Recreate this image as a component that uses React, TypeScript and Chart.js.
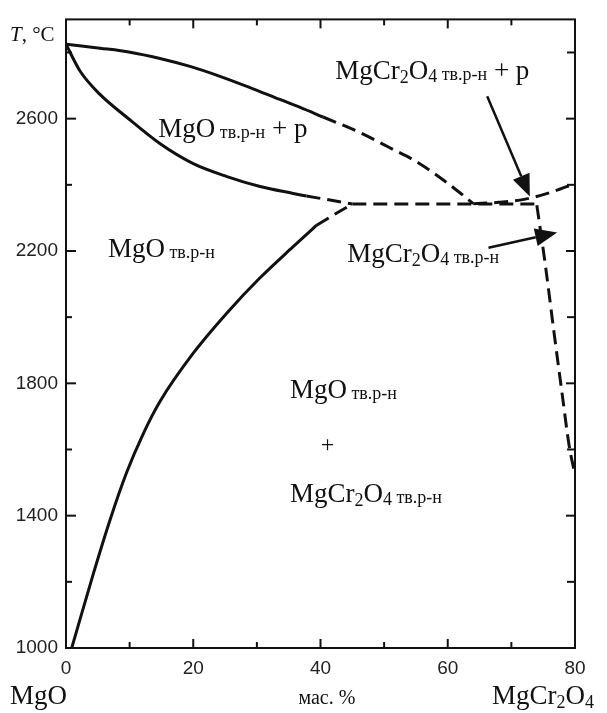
import React, { useEffect, useRef } from 'react';
import { Chart, registerables } from 'chart.js';

Chart.register(...registerables);

// ---- Data (wt.% MgCr2O4, temperature °C) ----
const liquidusSolidX = [0, 5.34, 10.06, 14.77, 19.49, 24.2, 28.9, 33.6, 36.8, 40.4];
const liquidusSolidT = [2825, 2813, 2801, 2782, 2758, 2728, 2694, 2658, 2634, 2605];
const liquidusDashX = [40.4, 46.2, 50.9, 55.6, 61.45, 64.0];
const liquidusDashT = [2605, 2558, 2512, 2464, 2383, 2343];
const liquidusRightX = [64, 68, 72, 76, 80];
const liquidusRightT = [2343, 2347, 2356, 2376, 2404];

const solidusSolidX = [0, 2.2, 5.3, 9.5, 14.8, 20, 25.3, 30.5, 35.7, 37.8];
const solidusSolidT = [2825, 2744, 2674, 2605, 2524, 2464, 2425, 2395, 2374, 2366];
const solidusDashX = [37.8, 41.5, 45];
const solidusDashT = [2366, 2354, 2342];

const solvusMgOSolidX = [0.9, 4.29, 6.92, 9.54, 12.1, 14.77, 20, 25.26, 30.5, 35.7, 39.4];
const solvusMgOSolidT = [1000, 1224, 1387, 1531, 1646, 1745, 1891, 2012, 2119, 2213, 2278];
const solvusMgODashX = [39.4, 42.5, 45];
const solvusMgODashT = [2278, 2314, 2342];

const eutecticX = [45, 74];
const eutecticT = [2342, 2342];

const solvusSpinelX = [74.0, 74.3, 75.4, 76.7, 78.0, 79.1, 80];
const solvusSpinelT = [2338, 2299, 2149, 1954, 1765, 1609, 1525];

// ---- Axes ----
const xTickLabels = [0, 20, 40, 60, 80];
const xMinorTicks = [10, 30, 50, 70];
const yTickLabels = [1000, 1400, 1800, 2200, 2600];
const yMinorTicks = [1200, 1600, 2000, 2400, 2800];

const SERIF = '"Liberation Serif", "Times New Roman", serif';
const SANS = '"Liberation Sans", Arial, sans-serif';

type Part = { t: string; size: number; dy?: number; italic?: boolean };

const SUB: Part = { t: ' тв.р-н', size: 18, dy: 1 };
const MGO: Part[] = [{ t: 'MgO', size: 27 }];
const MGCR: Part[] = [
  { t: 'MgCr', size: 27 },
  { t: '2', size: 18, dy: 4 },
  { t: 'O', size: 27 },
  { t: '4', size: 18, dy: 3 },
];
const PLUS_L: Part = { t: ' + р', size: 27 };

// annotation anchors in data coordinates (left, baseline)
const labels: { x: number; y: number; parts: Part[] }[] = [
  { x: 14.5, y: 2545, parts: [...MGO, SUB, PLUS_L] },
  { x: 42.3, y: 2719, parts: [...MGCR, SUB, PLUS_L] },
  { x: 44.2, y: 2168, parts: [...MGCR, SUB] },
  { x: 6.6, y: 2182, parts: [...MGO, SUB] },
  { x: 35.2, y: 1756, parts: [...MGO, SUB] },
  { x: 35.2, y: 1441, parts: [...MGCR, SUB] },
];

const arrows = [
  { x0: 66.2, y0: 2668, x1: 72.9, y1: 2365 },
  { x0: 66.4, y0: 2210, x1: 77.2, y1: 2256 },
];

function drawRich(ctx: CanvasRenderingContext2D, x: number, y: number, parts: Part[], align: 'left' | 'center' = 'left') {
  let total = 0;
  for (const p of parts) {
    ctx.font = `${p.italic ? 'italic ' : ''}${p.size}px ${SERIF}`;
    total += ctx.measureText(p.t).width;
  }
  let cx = align === 'center' ? x - total / 2 : x;
  ctx.textAlign = 'left';
  ctx.textBaseline = 'alphabetic';
  for (const p of parts) {
    ctx.font = `${p.italic ? 'italic ' : ''}${p.size}px ${SERIF}`;
    ctx.fillText(p.t, cx, y + (p.dy || 0));
    cx += ctx.measureText(p.t).width;
  }
}

function pts(xs: number[], ys: number[]) {
  return xs.map((x, i) => ({ x, y: ys[i] }));
}

const decorPlugin = {
  id: 'decor',
  afterDatasetsDraw(chart: any) {
    const ctx: CanvasRenderingContext2D = chart.ctx;
    const { left, right, top, bottom } = chart.chartArea;
    const xs = chart.scales.x;
    const ys = chart.scales.y;
    ctx.save();
    ctx.strokeStyle = '#111';
    ctx.fillStyle = '#111';
    // frame
    ctx.lineWidth = 2;
    ctx.strokeRect(left, top, right - left, bottom - top);
    // ticks
    ctx.lineWidth = 2;
    const tick = (x0: number, y0: number, x1: number, y1: number) => {
      ctx.beginPath();
      ctx.moveTo(x0, y0);
      ctx.lineTo(x1, y1);
      ctx.stroke();
    };
    for (const v of yTickLabels) {
      const py = ys.getPixelForValue(v);
      tick(left, py, left + 10, py);
      tick(right, py, right - 9, py);
    }
    for (const v of yMinorTicks) {
      const py = ys.getPixelForValue(v);
      tick(left, py, left + 6, py);
      tick(right, py, right - 8, py);
    }
    for (const v of xTickLabels) {
      const px = xs.getPixelForValue(v);
      tick(px, bottom, px, bottom - 9);
      tick(px, top, px, top + 9);
    }
    for (const v of xMinorTicks) {
      const px = xs.getPixelForValue(v);
      tick(px, bottom, px, bottom - 6);
      tick(px, top, px, top + 6);
    }
    // annotations
    for (const l of labels) {
      drawRich(ctx, xs.getPixelForValue(l.x), ys.getPixelForValue(l.y), l.parts);
    }
    drawRich(ctx, xs.getPixelForValue(41.1), ys.getPixelForValue(1618) + 8, [{ t: '+', size: 24 }], 'center');
    // arrows
    for (const a of arrows) {
      const x0 = xs.getPixelForValue(a.x0), y0 = ys.getPixelForValue(a.y0);
      const x1 = xs.getPixelForValue(a.x1), y1 = ys.getPixelForValue(a.y1);
      const ang = Math.atan2(y1 - y0, x1 - x0);
      const hl = 22, hw = 9;
      const bx = x1 - hl * Math.cos(ang), by = y1 - hl * Math.sin(ang);
      ctx.lineWidth = 2.5;
      tick(x0, y0, bx, by);
      ctx.beginPath();
      ctx.moveTo(x1, y1);
      ctx.lineTo(bx + hw * Math.sin(ang), by - hw * Math.cos(ang));
      ctx.lineTo(bx - hw * Math.sin(ang), by + hw * Math.cos(ang));
      ctx.closePath();
      ctx.fill();
    }
    // axis titles
    drawRich(ctx, left - 56, top + 22, [{ t: 'T', size: 21, italic: true }, { t: ', °C', size: 21 }]);
    drawRich(ctx, 10, 704, [{ t: 'MgO', size: 27 }]);
    drawRich(ctx, xs.getPixelForValue(41), 704, [{ t: 'мас. %', size: 20 }], 'center');
    drawRich(ctx, 492, 704, [
      { t: 'MgCr', size: 27 },
      { t: '2', size: 18, dy: 4 },
      { t: 'O', size: 27 },
      { t: '4', size: 18, dy: 4 },
    ]);
    ctx.restore();
  },
};

export default function App() {
  const ref = useRef<HTMLCanvasElement | null>(null);
  useEffect(() => {
    if (!ref.current) return;
    const solid = { borderColor: '#111', borderWidth: 3, pointRadius: 0, showLine: true, cubicInterpolationMode: 'monotone' as const, fill: false };
    const dashed = { ...solid, borderDash: [14, 7] };
    const chart = new Chart(ref.current, {
      type: 'scatter',
      data: {
        datasets: [
          { ...solid, data: pts(liquidusSolidX, liquidusSolidT) },
          { ...dashed, data: pts(liquidusDashX, liquidusDashT) },
          { ...dashed, data: pts(liquidusRightX, liquidusRightT) },
          { ...solid, data: pts(solidusSolidX, solidusSolidT) },
          { ...dashed, data: pts(solidusDashX, solidusDashT) },
          { ...solid, data: pts(solvusMgOSolidX, solvusMgOSolidT) },
          { ...dashed, data: pts(solvusMgODashX, solvusMgODashT) },
          { ...dashed, data: pts(eutecticX, eutecticT) },
          { ...dashed, data: pts(solvusSpinelX, solvusSpinelT) },
        ] as any,
      },
      options: {
        animation: false,
        responsive: false,
        layout: { padding: { left: 0, right: 32, top: 16, bottom: 0 } },
        plugins: { legend: { display: false }, tooltip: { enabled: false } },
        scales: {
          x: {
            type: 'linear',
            min: 0,
            max: 80,
            grid: { display: false, drawTicks: false },
            border: { display: false },
            afterBuildTicks: (s: any) => { s.ticks = xTickLabels.map((v) => ({ value: v })); },
            afterFit: (s: any) => { s.height = 65; },
            ticks: { padding: 9, color: '#222', font: { family: SANS, size: 19 }, maxRotation: 0, autoSkip: false, callback: (v: any) => String(v) },
          },
          y: {
            type: 'linear',
            min: 1000,
            max: 2900,
            grid: { display: false, drawTicks: false },
            border: { display: false },
            afterBuildTicks: (s: any) => { s.ticks = yTickLabels.map((v) => ({ value: v })); },
            afterFit: (s: any) => { s.width = 66; },
            ticks: { padding: 8, color: '#222', font: { family: SANS, size: 19 }, autoSkip: false, callback: (v: any) => String(v) },
          },
        },
      },
      plugins: [decorPlugin],
    });
    return () => chart.destroy();
  }, []);
  return (
    <div style={{ position: 'fixed', left: 0, top: 0, width: 607, height: 713, background: '#fff' }}>
      <canvas ref={ref} width={607} height={713} style={{ width: 607, height: 713, display: 'block' }} />
    </div>
  );
}
